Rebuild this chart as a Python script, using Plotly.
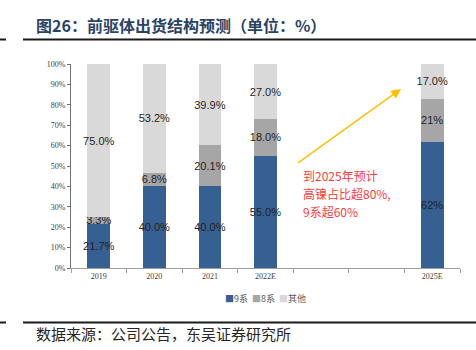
import plotly.graph_objects as go

categories = ["2019", "2020", "2021", "2022E", " ", "  ", "2025E"]
series_names = ["9系", "8系", "其他"]
s9 = [21.7, 40.0, 40.0, 55.0, None, None, 62]
s8 = [3.3, 6.8, 20.1, 18.0, None, None, 21]
other = [75.0, 53.2, 39.9, 27.0, None, None, 17.0]
labels9 = ["21.7%", "40.0%", "40.0%", "55.0%", "", "", "62%"]
labels8 = ["3.3%", "6.8%", "20.1%", "18.0%", "", "", "21%"]
labelso = ["75.0%", "53.2%", "39.9%", "27.0%", "", "", "17.0%"]
colors = ["#376092", "#A6A6A6", "#D9D9D9"]

title_text = "图26：前驱体出货结构预测（单位：%）"
source_text = "数据来源：公司公告，东吴证券研究所"
note_lines = ["到2025年预计", "高镍占比超80%,", "9系超60%"]

fig = go.Figure()
for name, vals, labs, col in zip(series_names, [s9, s8, other], [labels9, labels8, labelso], colors):
    tf = dict(family="Liberation Sans, Arial", size=11, color="#1f1f1f")
    fig.add_trace(go.Bar(
        x=categories, y=vals, name=name, marker=dict(color=col, line=dict(width=0)),
        text=labs, textposition="inside", insidetextanchor="middle",
        constraintext="none", textangle=0,
        textfont=tf, insidetextfont=tf,
    ))

fig.update_layout(
    width=476, height=350,
    margin=dict(l=71, r=16, t=64, b=82),
    barmode="stack", bargap=0.59,
    plot_bgcolor="white", paper_bgcolor="white",
    showlegend=False,
    font=dict(family="Liberation Serif, Times New Roman", size=8, color="#404040"),
)
fig.update_xaxes(
    type="category", categoryorder="array", categoryarray=categories,
    showline=True, linecolor="#A0A0A0", linewidth=1,
    ticks="outside", tickson="boundaries", ticklen=4, tickcolor="#A0A0A0",
    tickfont=dict(family="Liberation Serif, Times New Roman", size=8, color="#404040"),
    showgrid=False, zeroline=False,
)
fig.update_yaxes(
    range=[0, 100], dtick=10, ticksuffix="%",
    showline=True, linecolor="#707070", linewidth=1,
    ticks="outside", ticklen=3, tickcolor="#707070",
    tickfont=dict(family="Liberation Serif, Times New Roman", size=8, color="#404040"),
    showgrid=False, zeroline=False,
)

# Title and source
fig.add_annotation(text="<b>" + title_text + "</b>", xref="paper", yref="paper",
                   x=(34 - 71) / 389, y=1 + (64 - 25) / 204, xanchor="left", yanchor="middle",
                   showarrow=False,
                   font=dict(family="Noto Sans CJK SC", size=16, color="#2A4466"))
fig.add_annotation(text=source_text, xref="paper", yref="paper",
                   x=(34 - 71) / 389, y=-(333 - 268) / 204, xanchor="left", yanchor="middle",
                   showarrow=False,
                   font=dict(family="Noto Sans CJK SC", size=15, color="#262626"))

# Separator lines
for yy in [39.5, 322.5]:
    yp = (268 - yy) / 204
    fig.add_shape(type="line", xref="paper", yref="paper",
                  x0=(23 - 71) / 389, x1=(476 - 71) / 389, y0=yp, y1=yp,
                  line=dict(color="#1a1a1a", width=2))
    fig.add_shape(type="line", xref="paper", yref="paper",
                  x0=(0 - 71) / 389, x1=(6 - 71) / 389, y0=yp, y1=yp,
                  line=dict(color="#1a1a1a", width=2))

# Legend as compact annotation
leg = "&nbsp;&nbsp;".join(
    f"<span style='color:{c}'>■</span>{n}" for n, c in zip(series_names, colors))
fig.add_annotation(text=leg, xref="paper", yref="paper",
                   x=0.5, y=-(298 - 268) / 204, xanchor="center", yanchor="middle",
                   showarrow=False,
                   font=dict(family="Noto Sans CJK SC", size=9, color="#595959"))

# Arrow and note
fig.add_annotation(xref="paper", yref="paper",
                   x=(401 - 71) / 389, y=(268 - 89) / 204,
                   ax=-104.5, ay=75,
                   text="", showarrow=True, arrowhead=2, arrowsize=1.3, arrowwidth=1.5,
                   arrowcolor="#FFC000")
for i, yc in enumerate([175.0, 193.0, 211.5]):
    fig.add_annotation(text=note_lines[i], xref="paper", yref="paper",
                       x=(302 - 71) / 389, y=(268 - yc) / 204,
                       xanchor="left", yanchor="middle", borderpad=0,
                       align="left", showarrow=False,
                       font=dict(family="Noto Sans CJK SC", size=12, color="#FF3B3B"))

fig.write_html("out.html")
